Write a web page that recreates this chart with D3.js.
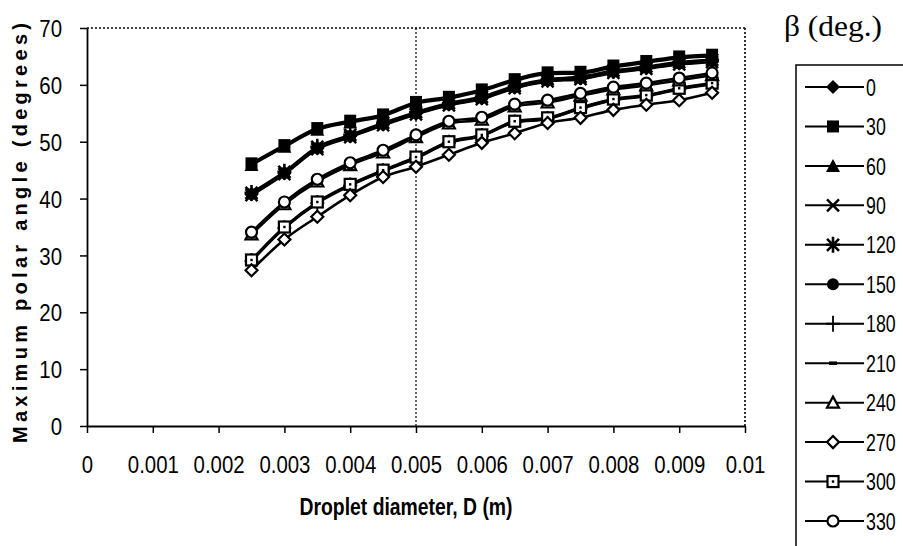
<!DOCTYPE html>
<html><head><meta charset="utf-8">
<script src="https://cdn.jsdelivr.net/npm/d3@7"></script>
<style>
body{margin:0;background:#fff;}
svg{display:block;}
</style></head>
<body>
<svg id="chart" width="903" height="546"></svg>
<script>
// ---- data ----
const diameters = [0.0025,0.003,0.0035,0.004,0.0045,0.005,0.0055,0.006,0.0065,0.007,0.0075,0.008,0.0085,0.009,0.0095];
const betaLabels = ["0","30","60","90","120","150","180","210","240","270","300","330"];
const s0   = [40.7,44.4,48.8,50.9,53.0,54.9,56.5,57.6,59.5,60.7,61.1,62.2,62.9,63.7,64.1];
const s30  = [46.2,49.4,52.4,53.7,54.8,57.0,57.9,59.2,61.0,62.2,62.3,63.4,64.2,65.0,65.3];
const s60  = [45.9,49.1,52.1,53.4,54.5,56.7,57.6,58.9,60.7,61.9,62.0,63.1,63.9,64.7,65.0];
const s90  = [40.6,44.3,48.7,50.8,52.9,54.8,56.4,57.5,59.4,60.6,61.0,62.1,62.8,63.6,64.0];
const s120 = [41.0,44.7,49.1,51.2,53.3,55.2,56.8,57.9,59.8,61.0,61.4,62.5,63.2,64.0,64.4];
const s150 = [40.8,44.5,48.9,51.0,53.1,55.0,56.6,57.7,59.6,60.8,61.2,62.3,63.0,63.8,64.2];
const s180 = [29.0,34.8,39.2,42.3,44.8,47.1,49.8,51.0,53.4,54.0,55.8,57.3,58.0,59.2,60.1];
const s210 = [29.1,34.9,39.3,42.4,44.9,47.2,49.9,51.1,53.5,54.1,55.9,57.4,58.1,59.3,60.2];
const s240 = [33.7,39.0,43.0,45.9,48.1,50.8,53.2,53.9,56.2,56.9,58.1,59.2,59.9,60.8,61.7];
const s270 = [27.4,32.8,36.8,40.6,43.8,45.6,47.7,49.8,51.5,53.3,54.2,55.6,56.5,57.3,58.6];
const s300 = [29.2,35.0,39.4,42.5,45.0,47.3,50.0,51.2,53.6,54.2,56.0,57.5,58.2,59.4,60.3];
const s330 = [34.1,39.4,43.4,46.3,48.5,51.2,53.6,54.3,56.6,57.3,58.5,59.6,60.3,61.2,62.1];
const seriesValues = [s0,s30,s60,s90,s120,s150,s180,s210,s240,s270,s300,s330];
const markerKinds = ["diamondF","squareF","triangleF","x","asterisk","circleF","plus","dash","triangleO","diamondO","squareO","circleO"];
const xTicks = [0,0.001,0.002,0.003,0.004,0.005,0.006,0.007,0.008,0.009,0.01];
const xTickLabels = ["0","0.001","0.002","0.003","0.004","0.005","0.006","0.007","0.008","0.009","0.01"];
const yTicks = [0,10,20,30,40,50,60,70];

// ---- layout ----
const svg = d3.select("#chart");
const L = 87, R = 745, T = 28, B = 426;
const x = d3.scaleLinear().domain([0,0.01]).range([L,R]);
const y = d3.scaleLinear().domain([0,70]).range([B,T]);
const sans = "'Liberation Sans',Arial,sans-serif";

// condense text horizontally (narrow font look)
function condense(sel, f){
  sel.each(function(){
    const w = this.getComputedTextLength();
    d3.select(this).attr("textLength", w*f).attr("lengthAdjust","spacingAndGlyphs");
  });
}

// dotted frame top/right and mid line
svg.append("line").attr("x1",L).attr("x2",R).attr("y1",T).attr("y2",T)
  .attr("stroke","#000").attr("stroke-width",1.6).attr("stroke-dasharray","2,2");
svg.append("line").attr("x1",R).attr("x2",R).attr("y1",T).attr("y2",B)
  .attr("stroke","#000").attr("stroke-width",1.6).attr("stroke-dasharray","2,2");
svg.append("line").attr("x1",x(0.005)).attr("x2",x(0.005)).attr("y1",T).attr("y2",B)
  .attr("stroke","#000").attr("stroke-width",1.2).attr("stroke-dasharray","2,2");

// axes
const xAxis = svg.append("g").attr("transform",`translate(0,${B})`)
  .call(d3.axisBottom(x).tickValues(xTicks).tickFormat((d,i)=>xTickLabels[i]).tickSize(7).tickSizeOuter(0));
xAxis.select(".domain").attr("stroke-width",2);
xAxis.selectAll(".tick line").attr("stroke-width",1.5);
xAxis.selectAll("text").attr("font-family",sans).attr("font-size",24).attr("fill","#000")
  .attr("y",47).attr("dy",0).call(condense,0.85);

const yAxis = svg.append("g").attr("transform",`translate(${L},0)`)
  .call(d3.axisLeft(y).tickValues(yTicks).tickSize(7).tickSizeOuter(0));
yAxis.select(".domain").attr("stroke-width",1.8);
yAxis.selectAll(".tick line").attr("stroke-width",1.5);
yAxis.selectAll("text").attr("font-family",sans).attr("font-size",24).attr("fill","#000")
  .attr("x",-25).attr("dy","0.36em").call(condense,0.85);

// axis titles
svg.append("text").attr("transform","translate(27,233) rotate(-90)")
  .attr("text-anchor","middle").attr("font-family",sans)
  .attr("font-weight","bold").attr("font-size",20).attr("textLength",420).attr("lengthAdjust","spacing")
  .text("Maximum polar angle (degrees)");
svg.append("text").attr("x",406).attr("y",515).attr("text-anchor","middle")
  .attr("font-family",sans).attr("font-weight","bold").attr("font-size",24)
  .attr("textLength",213).attr("lengthAdjust","spacingAndGlyphs")
  .text("Droplet diameter, D (m)");

// marker drawing
function drawMarker(g, kind, cx, cy){
  const k = g.append("g").attr("transform",`translate(${cx},${cy})`);
  const sw = 2.2;
  switch(kind){
    case "diamondF": k.append("path").attr("d","M0,-7L7,0L0,7L-7,0Z").attr("fill","#000"); break;
    case "diamondO": k.append("path").attr("d","M0,-6L6,0L0,6L-6,0Z").attr("fill","#fff").attr("stroke","#000").attr("stroke-width",sw); break;
    case "squareF": k.append("rect").attr("x",-6).attr("y",-6).attr("width",12).attr("height",12).attr("fill","#000"); break;
    case "squareO": k.append("rect").attr("x",-5.5).attr("y",-5.5).attr("width",11).attr("height",11).attr("fill","#fff").attr("stroke","#000").attr("stroke-width",sw);
      k.append("rect").attr("x",-1.2).attr("y",-1.2).attr("width",2.4).attr("height",2.4).attr("fill","#000"); break;
    case "triangleF": k.append("path").attr("d","M0,-7L7,6L-7,6Z").attr("fill","#000"); break;
    case "triangleO": k.append("path").attr("d","M0,-6L6,5L-6,5Z").attr("fill","#fff").attr("stroke","#000").attr("stroke-width",sw); break;
    case "circleF": k.append("circle").attr("r",6).attr("fill","#000"); break;
    case "circleO": k.append("circle").attr("r",5.5).attr("fill","#fff").attr("stroke","#000").attr("stroke-width",sw); break;
    case "x": k.append("path").attr("d","M-6,-6L6,6M6,-6L-6,6").attr("stroke","#000").attr("stroke-width",2.4); break;
    case "asterisk": k.append("path").attr("d","M-6,-6L6,6M6,-6L-6,6M0,-8L0,8M-7,0L7,0").attr("stroke","#000").attr("stroke-width",2.6); break;
    case "plus": k.append("path").attr("d","M0,-8L0,8M-7,0L7,0").attr("stroke","#000").attr("stroke-width",1.8); break;
    case "dash": k.append("path").attr("d","M-4,0L4,0").attr("stroke","#000").attr("stroke-width",3.5); break;
  }
}

// series lines + markers
const line = d3.line().x((d,i)=>x(diameters[i])).y(d=>y(d)).curve(d3.curveMonotoneX);
const plot = svg.append("g");
const order = [0,3,4,5,1,2,6,7,10,9,8,11];
order.forEach(si=>{
  plot.append("path").datum(seriesValues[si]).attr("d",line)
    .attr("fill","none").attr("stroke","#000").attr("stroke-width",2.6);
});
order.forEach(si=>{
  seriesValues[si].forEach((v,i)=>drawMarker(plot, markerKinds[si], x(diameters[i]), y(v)));
});

// legend
svg.append("text").attr("x",784).attr("y",36).attr("font-family","'Liberation Serif','Times New Roman',serif")
  .attr("font-size",30).attr("fill","#000").attr("textLength",98).attr("lengthAdjust","spacingAndGlyphs").text("β (deg.)");
svg.append("rect").attr("x",796).attr("y",65).attr("width",140).attr("height",520)
  .attr("fill","none").attr("stroke","#000").attr("stroke-width",1.5);
const ly = d3.scaleLinear().domain([0,11]).range([87,521]);
betaLabels.forEach((lab,i)=>{
  const g = svg.append("g");
  g.append("line").attr("x1",805).attr("x2",864).attr("y1",ly(i)).attr("y2",ly(i))
    .attr("stroke","#000").attr("stroke-width",2);
  drawMarker(g, markerKinds[i], 833, ly(i));
  g.append("g").attr("transform",`translate(866,${ly(i)}) scale(0.74,1)`)
    .append("text").attr("x",0).attr("y",0).attr("dy","0.36em")
    .attr("font-family",sans).attr("font-size",24).attr("fill","#000").text(lab);
});
</script>
</body></html>
